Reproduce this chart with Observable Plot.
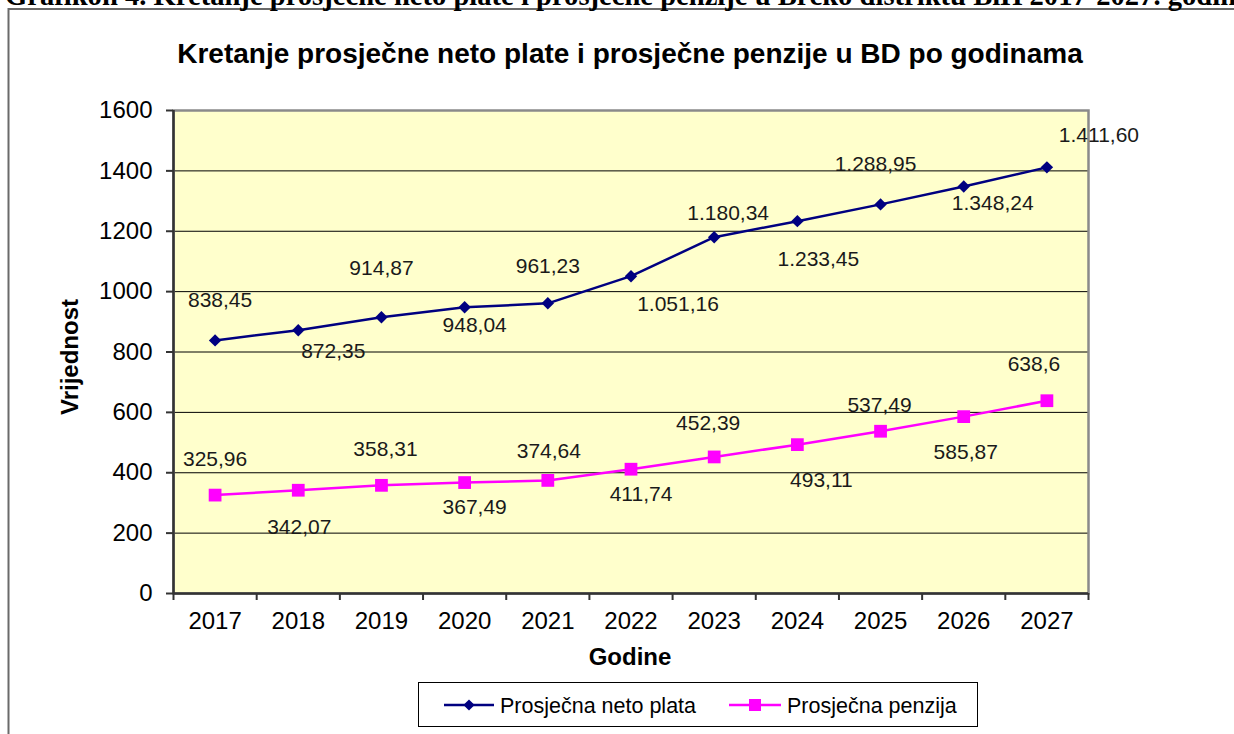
<!DOCTYPE html>
<html><head><meta charset="utf-8">
<script src="https://cdn.jsdelivr.net/npm/d3@7"></script>
<script src="https://cdn.jsdelivr.net/npm/@observablehq/plot@0.6"></script>
<style>
html,body{margin:0;padding:0;background:#fff;}
#wrap{position:relative;width:1234px;height:734px;overflow:hidden;background:#fff;}
#wrap > svg{position:absolute;left:0;top:0;}
</style></head><body><div id="wrap"></div>
<script>
// ---- data ----
const years = [2017, 2018, 2019, 2020, 2021, 2022, 2023, 2024, 2025, 2026, 2027];
const wage = [838.45, 872.35, 914.87, 948.04, 961.23, 1051.16, 1180.34, 1233.45, 1288.95, 1348.24, 1411.60];
const pension = [325.96, 342.07, 358.31, 367.49, 374.64, 411.74, 452.39, 493.11, 537.49, 585.87, 638.6];
const wageLabels = ["838,45", "872,35", "914,87", "948,04", "961,23", "1.051,16", "1.180,34", "1.233,45", "1.288,95", "1.348,24", "1.411,60"];
const pensionLabels = ["325,96", "342,07", "358,31", "367,49", "374,64", "411,74", "452,39", "493,11", "537,49", "585,87", "638,6"];
const yTicks = [0, 200, 400, 600, 800, 1000, 1200, 1400, 1600];
const seriesNames = ["Prosječna neto plata", "Prosječna penzija"];
const caption = "Grafikon 4. Kretanje prosječne neto plate i prosječne penzije u Brčko distriktu BiH 2017-2027. godine";
const title = "Kretanje prosječne neto plate i prosječne penzije u BD po godinama";
const xTitle = "Godine";
const yTitle = "Vrijednost";
// label nudges (pixels relative to each point), as placed in the original
const wageLabelNudge = [[5,-40],[35,21],[0,-49],[10,18],[0,-37],[47,28],[14,-24],[21,38],[-5,-40],[29,17],[52,-32]];
const pensionLabelNudge = [[0,-36],[1,37],[4,-36],[10,25],[1,-29],[10,25],[-6,-34],[24,36],[-1,-26],[2,36],[-13,-36]];

const FONT = "'Liberation Sans', Arial, sans-serif";
const NAVY = "#000080", MAGENTA = "#FF00FF";
const rows = (vals, labels) => years.map((year, i) => ({year, value: vals[i], label: labels[i]}));
const wageRows = rows(wage, wageLabels);
const pensionRows = rows(pension, pensionLabels);
const boundaries = d3.range(years[0] - 0.5, years[years.length - 1] + 1, 1);
const grid = yTicks.slice(1, -1);

const labelMarks = (data, nudges) => data.map((d, i) => Plot.text([d], {
  x: "year", y: "value", text: "label", dx: nudges[i][0], dy: nudges[i][1],
  fontSize: 21, fill: "#1a1a1a"
}));

const chart = Plot.plot({
  width: 1234, height: 734,
  marginLeft: 173, marginRight: 146, marginTop: 110, marginBottom: 141,
  style: {background: "transparent", fontFamily: FONT, color: "#000", overflow: "visible"},
  x: {domain: [boundaries[0], boundaries[boundaries.length - 1]], axis: null},
  y: {domain: [0, 1600], axis: null},
  marks: [
    Plot.frame({fill: "#FFFFCC", stroke: null}),
    Plot.ruleY(grid, {stroke: "#000", strokeWidth: 1}),
    Plot.frame({stroke: "#8a8a8a", strokeWidth: 2.5}),
    Plot.axisY({ticks: yTicks, tickSize: 7, tickPadding: 14, fontSize: 24, stroke: "#333", strokeWidth: 2, label: null, tickFormat: d => String(d)}),
    Plot.axisX({ticks: boundaries, tickSize: 7, tickFormat: () => "", stroke: "#333", strokeWidth: 2, label: null}),
    Plot.axisX({ticks: years, tickSize: 0, tickPadding: 18, fontSize: 24, tickFormat: d => String(d), label: null}),
    Plot.ruleX([boundaries[0]], {stroke: "#333", strokeWidth: 2.5}),
    Plot.ruleY([0], {stroke: "#333", strokeWidth: 2.5}),
    ...labelMarks(wageRows, wageLabelNudge),
    ...labelMarks(pensionRows, pensionLabelNudge),
    Plot.line(wageRows, {x: "year", y: "value", stroke: NAVY, strokeWidth: 2.5}),
    Plot.dot(wageRows, {x: "year", y: "value", symbol: "diamond2", r: 5.6, fill: NAVY, stroke: null}),
    Plot.line(pensionRows, {x: "year", y: "value", stroke: MAGENTA, strokeWidth: 2.5}),
    Plot.dot(pensionRows, {x: "year", y: "value", symbol: "square", r: 7.2, fill: MAGENTA, stroke: null})
  ]
});
const wrap = document.getElementById("wrap");
wrap.appendChild(chart);

// ---- overlay: caption, outer box, titles, legend ----
const svg = d3.select(wrap).append("svg")
  .attr("width", 1234).attr("height", 734)
  .style("pointer-events", "none");
svg.append("rect").attr("x", 8.5).attr("y", 9).attr("width", 1300).attr("height", 800)
  .attr("fill", "none").attr("stroke", "#6a6a6a").attr("stroke-width", 2);
svg.append("text").attr("x", 5).attr("y", 5)
  .attr("font-family", "'Liberation Serif', 'Times New Roman', serif").attr("font-weight", "bold")
  .attr("font-size", 28.6).attr("fill", "#000").text(caption);
svg.append("text").attr("x", 630).attr("y", 63).attr("text-anchor", "middle")
  .attr("font-family", FONT).attr("font-weight", "bold").attr("font-size", 28).text(title);
svg.append("text").attr("x", 630).attr("y", 665).attr("text-anchor", "middle")
  .attr("font-family", FONT).attr("font-weight", "bold").attr("font-size", 24).text(xTitle);
svg.append("text").attr("transform", "translate(70,357) rotate(-90)").attr("dy", "0.35em")
  .attr("text-anchor", "middle")
  .attr("font-family", FONT).attr("font-weight", "bold").attr("font-size", 24).text(yTitle);

const lg = svg.append("g");
lg.append("rect").attr("x", 418.5).attr("y", 682.5).attr("width", 559).attr("height", 44)
  .attr("fill", "#fff").attr("stroke", "#000").attr("stroke-width", 1);
const items = [
  {name: seriesNames[0], color: NAVY, x0: 444, x1: 494, sym: d3.symbolDiamond2, size: 80, tx: 500},
  {name: seriesNames[1], color: MAGENTA, x0: 729, x1: 781, sym: d3.symbolSquare, size: 144, tx: 787}
];
for (const it of items) {
  lg.append("line").attr("x1", it.x0).attr("x2", it.x1).attr("y1", 705).attr("y2", 705)
    .attr("stroke", it.color).attr("stroke-width", 2.5);
  lg.append("path").attr("d", d3.symbol(it.sym, it.size)())
    .attr("transform", `translate(${(it.x0 + it.x1) / 2},705)`).attr("fill", it.color);
  lg.append("text").attr("x", it.tx).attr("y", 705).attr("dy", "0.35em")
    .attr("font-family", FONT).attr("font-size", 21.5).attr("fill", "#000").text(it.name);
}
</script>
</body></html>
